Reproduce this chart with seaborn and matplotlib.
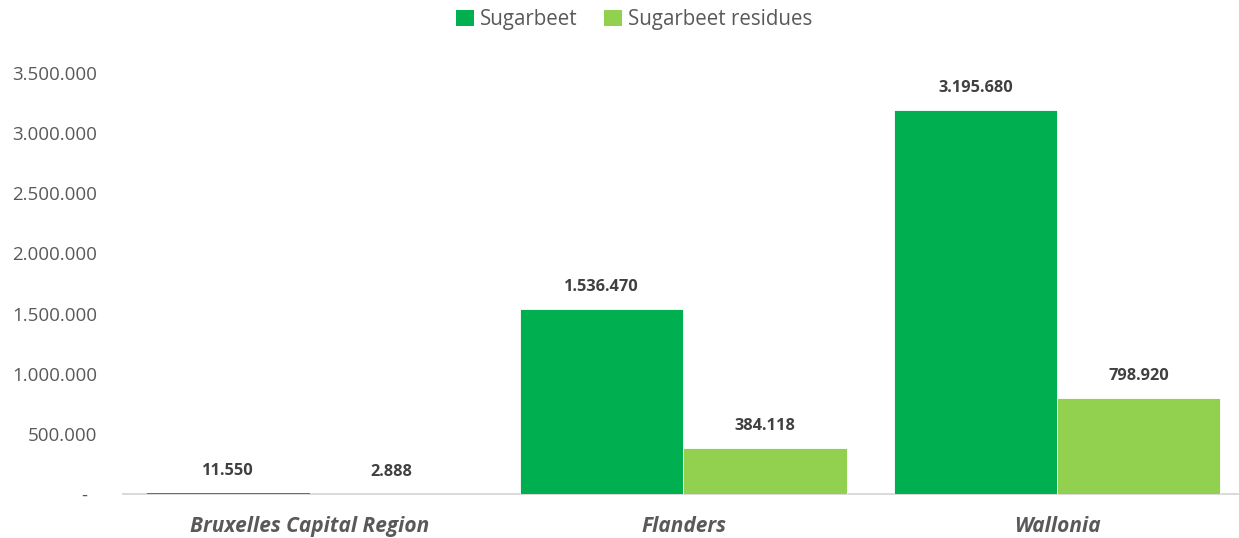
import matplotlib
matplotlib.use("Agg")
import matplotlib.pyplot as plt
import matplotlib.transforms as mtransforms
import seaborn as sns
import pandas as pd

regions = ["Bruxelles Capital Region", "Flanders", "Wallonia"]
series = ["Sugarbeet", "Sugarbeet residues"]
sugarbeet = [11550, 1536470, 3195680]
residues = [2888, 384118, 798920]
y_ticks = [0, 500000, 1000000, 1500000, 2000000, 2500000, 3000000, 3500000]

df = pd.DataFrame({
    "region": regions * 2,
    "series": [series[0]] * 3 + [series[1]] * 3,
    "value": sugarbeet + residues,
})

sns.set_theme(style="white")
plt.rcParams["font.family"] = ["Open Sans", "DejaVu Sans"]

def dotted(v):
    return "-" if v == 0 else f"{int(round(v)):,}".replace(",", ".")

fig = plt.figure(figsize=(12.39, 5.38), dpi=100)
ax = fig.add_axes([123 / 1239, 44 / 538, 1121 / 1239, 421 / 538])

sns.barplot(data=df, x="region", y="value", hue="series", order=regions,
            hue_order=series, palette=["#00B050", "#92D050"], width=0.874,
            saturation=1, ax=ax, legend=True, zorder=3,
            edgecolor="white", linewidth=0.6)

# very short bars would vanish under their white outline
for p in ax.patches:
    if p.get_height() < 50000:
        p.set_linewidth(0)

for cont in ax.containers:
    ax.bar_label(cont, labels=[dotted(b.get_height()) for b in cont],
                 padding=10, fontsize=11.8, fontweight="bold", color="#404040")

ax.set_ylim(0, 3500000)
ax.set_xlim(-0.5, 2.5)
ax.set_yticks(y_ticks)
ax.set_yticklabels([dotted(v) for v in y_ticks], fontsize=13.5, color="#595959")
ax.tick_params(axis="y", length=0, pad=18.5)
ax.tick_params(axis="x", length=0, pad=16)
# accounting-style zero: dash sits left of the number column
zero_lbl = ax.get_yticklabels()[0]
zero_lbl.set_transform(zero_lbl.get_transform() +
                       mtransforms.ScaledTranslation(-10 / 100, 0, fig.dpi_scale_trans))
ax.set_xticks(range(len(regions)))
ax.set_xticklabels(regions, fontsize=15, fontweight="bold", fontstyle="italic",
                   color="#595959")
ax.set_xlabel("")
ax.set_ylabel("")
for s in ["top", "right", "left"]:
    ax.spines[s].set_visible(False)
ax.spines["bottom"].set_color("#D9D9D9")
ax.spines["bottom"].set_linewidth(1.4)
ax.spines["bottom"].set_zorder(2)

handles, labels = ax.get_legend_handles_labels()
ax.get_legend().remove()
fig.legend(handles, labels, loc="upper center", bbox_to_anchor=(0.512, 1.017),
           ncol=2, frameon=False, fontsize=14.8, handlelength=0.85,
           handleheight=0.85, handletextpad=0.3, columnspacing=1.3,
           labelcolor="#595959")

fig.savefig("out.png", dpi=100)
